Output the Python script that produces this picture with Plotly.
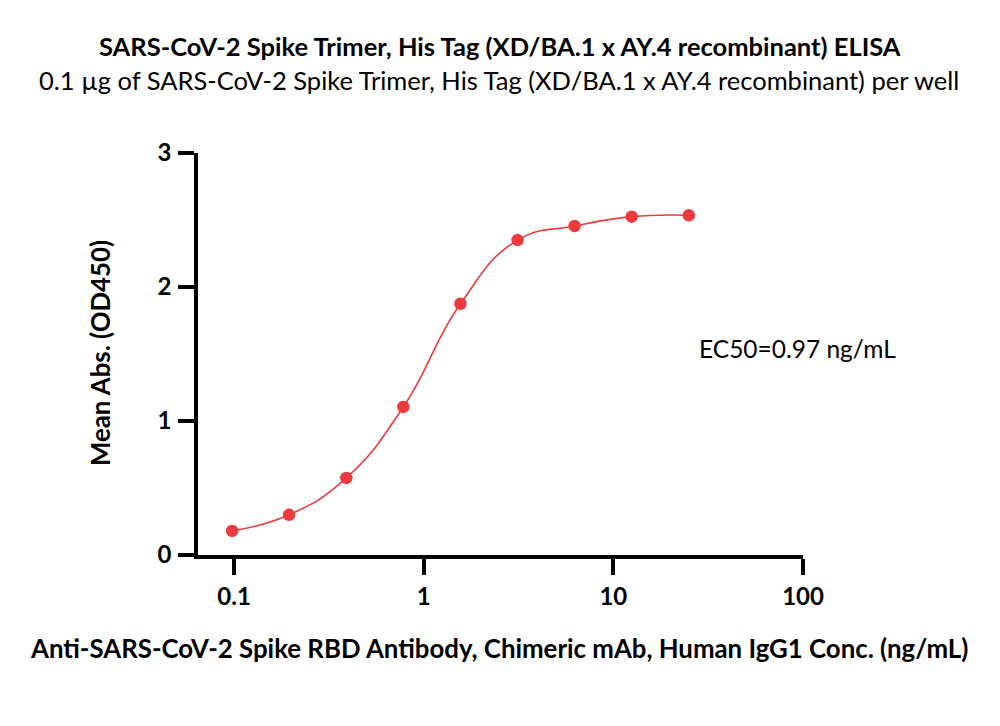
import plotly.graph_objects as go

conc = [0.0977, 0.195, 0.391, 0.781, 1.5625, 3.125, 6.25, 12.5, 25]
od450 = [0.18, 0.30, 0.575, 1.105, 1.875, 2.35, 2.455, 2.525, 2.535]
x_ticks = [0.1, 1, 10, 100]
x_tick_labels = ["0.1", "1", "10", "100"]
y_ticks = [0, 1, 2, 3]

title = "SARS-CoV-2 Spike Trimer, His Tag (XD/BA.1 x AY.4 recombinant) ELISA"
subtitle = "0.1 µg of SARS-CoV-2 Spike Trimer, His Tag (XD/BA.1 x AY.4 recombinant) per well"
x_title = "Anti-SARS-CoV-2 Spike RBD Antibody, Chimeric mAb, Human IgG1 Conc. (ng/mL)"
y_title = "Mean Abs. (OD450)"
ec50_text = "EC50=0.97 ng/mL"

RED = "#EE3A3F"
FONT = "Lato"

fig = go.Figure()
fig.add_trace(go.Scatter(
    x=conc, y=od450, mode="lines",
    line=dict(color=RED, width=1.6, shape="spline", smoothing=1.3),
    hoverinfo="skip", showlegend=False,
))
fig.add_trace(go.Scatter(
    x=conc, y=od450, mode="markers",
    marker=dict(color=RED, size=12.5),
    showlegend=False,
))

OFF = 8  # page offset of the figure in the screenshot
PL, PR, PT, PB = 198, 803, 153, 555  # target plot box in screenshot pixels
L = PL - OFF
T = PT - OFF
W, H = 1000, 726
R = W - (PR - OFF)
B = H - (PB - OFF)
PW, PH = PR - PL, PB - PT

def px(x):
    return (x - PL) / PW

def py(y):
    return (PB - y) / PH

fig.update_layout(
    width=W, height=H,
    margin=dict(l=L, r=R, t=T, b=B),
    paper_bgcolor="white", plot_bgcolor="white",
    font=dict(family=FONT, color="black"),
    xaxis=dict(
        type="log", range=[-1.19, 2.0],
        tickvals=x_ticks, ticktext=x_tick_labels,
        ticks="outside", ticklen=16, tickwidth=3.5, tickcolor="black",
        showline=True, linewidth=3.5, linecolor="black",
        showgrid=False, zeroline=False, ticklabelstandoff=1,
        tickfont=dict(family=FONT, size=24, color="black", weight="bold"),
    ),
    yaxis=dict(
        range=[0, 3], tickvals=y_ticks,
        ticks="outside", ticklen=16, tickwidth=3.5, tickcolor="black",
        showline=True, linewidth=3.5, linecolor="black",
        showgrid=False, zeroline=False, ticklabelstandoff=2,
        tickfont=dict(family=FONT, size=24, color="black", weight="bold"),
    ),
    annotations=[
        dict(text="<b>" + title + "</b>", x=px(500), y=py(46), xref="paper", yref="paper",
             xanchor="center", yanchor="middle", showarrow=False,
             font=dict(family=FONT, size=25.5, color="black")),
        dict(text=subtitle, x=px(499), y=py(80), xref="paper", yref="paper",
             xanchor="center", yanchor="middle", showarrow=False,
             font=dict(family=FONT, size=25.5, color="black")),
        dict(text="<b>" + x_title + "</b>", x=px(499), y=py(648), xref="paper", yref="paper",
             xanchor="center", yanchor="middle", showarrow=False,
             font=dict(family=FONT, size=25.8, color="black")),
        dict(text="<b>" + y_title + "</b>", x=px(100), y=py(353), xref="paper", yref="paper",
             xanchor="center", yanchor="middle", showarrow=False, textangle=-90,
             font=dict(family=FONT, size=25.8, color="black")),
        dict(text=ec50_text, x=px(697), y=py(348), xref="paper", yref="paper",
             xanchor="left", yanchor="middle", showarrow=False,
             font=dict(family=FONT, size=24.5, color="black")),
    ],
)

fig.write_html("out.html")
